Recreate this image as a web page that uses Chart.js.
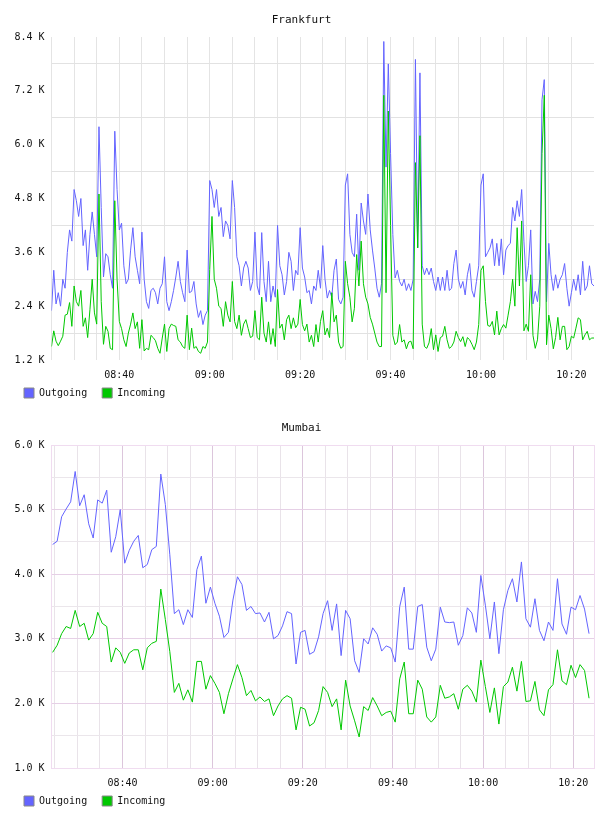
<!DOCTYPE html>
<html>
<head>
<meta charset="utf-8">
<script src="https://cdn.jsdelivr.net/npm/chart.js@4/dist/chart.umd.min.js"></script>
<style>
  body { margin: 0; background: #fff; }
  canvas { display: block; }
</style>
</head>
<body>
<canvas id="frankfurt" width="608" height="408"></canvas>
<canvas id="mumbai" width="608" height="408"></canvas>
<script>
// traffic in K, minutes since midnight for the time axis
const frankfurtStart = 505;   // 08:25
const frankfurtStep = 0.5;
const frankfurtOutgoing = [
  2.3, 3.2, 2.45, 2.7, 2.4, 3.0, 2.8, 3.6, 4.1, 3.85,
  5.0, 4.75, 4.4, 4.8, 3.75, 4.1, 3.2, 4.0, 4.5, 4.0,
  3.5, 6.4, 4.6, 3.05, 3.57, 3.5, 3.1, 2.8, 6.3, 5.0,
  4.1, 4.25, 3.3, 2.9, 3.0, 3.65, 4.15, 3.5, 3.2, 2.9,
  4.05, 3.0, 2.5, 2.35, 2.75, 2.8, 2.7, 2.45, 2.8, 2.9,
  3.5, 2.5, 2.3, 2.5, 2.75, 3.05, 3.4, 2.95, 2.7, 2.5,
  3.65, 2.7, 2.73, 2.95, 2.45, 2.15, 2.3, 1.99, 2.2, 2.3,
  5.2, 5.0, 4.6, 5.0, 4.4, 4.6, 3.95, 4.3, 4.2, 3.9,
  5.2, 4.6, 3.5, 3.3, 2.85, 3.25, 3.4, 3.25, 2.75, 2.95,
  4.05, 2.85, 2.65, 4.04, 2.95, 2.5, 3.4, 2.5, 2.85, 2.6,
  4.2, 3.3, 3.1, 2.65, 2.95, 3.6, 3.4, 2.75, 3.2, 3.1,
  4.15, 3.25, 3.05, 2.7, 2.75, 2.45, 2.85, 2.75, 3.2, 2.8,
  3.75, 3.0, 2.58, 2.75, 2.6, 3.2, 3.45, 2.55, 2.45, 2.6,
  5.1, 5.35, 4.0, 3.6, 3.5, 4.45, 3.2, 4.7, 4.3, 4.0,
  4.9, 4.1, 3.65, 3.25, 2.8, 2.6, 2.9, 8.3, 5.5, 7.8,
  5.8, 4.0, 3.03, 3.2, 2.95, 2.85, 3.0, 2.75, 2.9, 2.75,
  3.0, 7.9, 3.7, 7.6, 3.3, 3.1, 3.25, 3.1, 3.25, 2.95,
  2.75, 3.05, 2.75, 3.05, 2.75, 3.2, 2.75, 2.8, 3.35, 3.65,
  3.0, 2.8, 2.95, 2.65, 3.1, 3.35, 2.75, 2.6, 2.95, 3.3,
  5.1, 5.35, 3.5, 3.6, 3.7, 3.9, 3.3, 3.8, 3.3, 3.9,
  3.1, 3.65, 3.75, 3.8, 4.6, 4.3, 4.75, 4.4, 5.0, 3.85,
  2.95, 3.3, 4.1, 2.45, 2.73, 2.5, 3.0, 7.0, 7.45, 2.5,
  3.8, 3.1, 2.75, 3.1, 2.8, 3.0, 3.1, 3.35, 2.8, 2.4,
  2.7, 3.0, 2.75, 3.1, 2.65, 3.4, 2.75, 2.85, 3.3, 2.9,
  2.85
];
const frankfurtIncoming = [
  1.5, 1.85, 1.62, 1.52, 1.62, 1.73, 2.2, 2.22, 2.48, 1.95,
  2.85, 2.5, 2.4, 2.75, 1.95, 2.14, 1.7, 2.32, 3.0, 2.25,
  2.0, 4.9, 2.5, 1.55, 1.95, 1.84, 1.46, 1.43, 4.75, 3.0,
  2.06, 1.9, 1.65, 1.5, 1.8, 2.0, 2.25, 1.9, 2.05, 1.46,
  2.1, 1.4, 1.46, 1.43, 1.75, 1.7, 1.63, 1.46, 1.35, 1.69,
  2.0, 1.39, 1.9, 2.0, 1.97, 1.95, 1.65, 1.6, 1.5, 1.46,
  2.2, 1.43, 1.91, 1.46, 1.5, 1.39, 1.35, 1.5, 1.46, 1.6,
  3.22, 4.4, 3.0, 2.8, 2.4, 2.35, 1.95, 2.5, 2.2, 2.05,
  2.95, 2.06, 1.9, 2.2, 1.75, 2.0, 2.1, 1.9, 1.7, 1.73,
  2.3, 1.7, 1.65, 2.6, 1.8, 1.6, 2.05, 1.55, 1.9, 1.5,
  2.77, 1.91, 2.0, 1.65, 2.1, 2.2, 1.9, 2.14, 1.92, 2.0,
  2.55, 1.99, 1.85, 2.0, 1.6, 1.75, 1.5, 1.99, 1.6, 2.06,
  2.3, 1.76, 1.91, 1.7, 2.7, 2.05, 2.2, 1.6, 1.46, 1.5,
  3.4, 2.9, 2.6, 2.05, 2.35, 3.55, 2.85, 3.85, 2.9, 2.6,
  2.45, 2.15, 2.0, 1.8, 1.6, 1.5, 1.5, 7.1, 2.7, 6.75,
  4.2, 1.75, 1.54, 1.6, 1.99, 1.6, 1.65, 1.45, 1.6, 1.62,
  1.45, 5.6, 3.7, 6.2, 2.0, 1.5, 1.46, 1.58, 1.9, 1.43,
  1.76, 1.39, 1.7, 1.73, 1.95, 1.65, 1.46, 1.5, 1.6, 1.84,
  1.7, 1.61, 1.72, 1.5, 1.7, 1.65, 1.55, 1.43, 1.6, 1.99,
  3.2, 3.3, 2.5, 1.97, 1.95, 2.06, 1.76, 2.29, 1.76, 1.9,
  1.99, 1.91, 2.2, 2.5, 3.0, 2.4, 4.15, 2.85, 4.3, 1.85,
  2.0, 1.84, 3.1, 1.75, 1.46, 1.65, 2.4, 5.8, 7.1, 1.54,
  2.2, 1.9, 1.45, 1.7, 2.15, 1.65, 1.95, 1.95, 1.43, 1.5,
  1.73, 1.69, 1.91, 2.14, 2.1, 1.65, 1.76, 1.84, 1.65, 1.69,
  1.69
];

const mumbaiStart = 504.5;    // 08:24:30
const mumbaiStep = 1;
const mumbaiOutgoing = [
  4.46, 4.51, 4.89, 5.01, 5.12, 5.59, 5.06, 5.23, 4.78, 4.56,
  5.15, 5.1, 5.3, 4.34, 4.58, 5.0, 4.17, 4.37, 4.51, 4.6,
  4.1, 4.15, 4.38, 4.43, 5.55, 5.08, 4.3, 3.39, 3.45, 3.22,
  3.45, 3.33, 4.07, 4.28, 3.55, 3.8, 3.55, 3.35, 3.02, 3.1,
  3.6, 3.96, 3.84, 3.44, 3.5, 3.39, 3.4, 3.26, 3.41, 3.0,
  3.05, 3.2, 3.42, 3.39, 2.61, 3.1, 3.13, 2.76, 2.8, 3.03,
  3.39, 3.59, 3.13, 3.54, 2.74, 3.44, 3.31, 2.66, 2.48, 3.0,
  2.92, 3.17, 3.07, 2.81, 2.89, 2.86, 2.64, 3.5, 3.8, 2.84,
  2.84, 3.5, 3.53, 2.87, 2.66, 2.84, 3.49, 3.26, 3.25, 3.26,
  2.9, 3.05, 3.48, 3.4, 3.1, 3.98, 3.52, 3.0, 3.57, 2.77,
  3.45, 3.75, 3.93, 3.57, 4.19, 3.31, 3.18, 3.62, 3.13, 2.97,
  3.26, 3.13, 3.93, 3.23, 3.07, 3.49, 3.45, 3.67, 3.46, 3.08
];
const mumbaiIncoming = [
  2.79, 2.9, 3.08, 3.19, 3.16, 3.44, 3.19, 3.24, 2.98, 3.08,
  3.41, 3.24, 3.19, 2.64, 2.86, 2.79, 2.62, 2.78, 2.83, 2.83,
  2.52, 2.86, 2.93, 2.96, 3.77, 3.3, 2.8, 2.17, 2.31, 2.05,
  2.21, 2.02, 2.65, 2.65, 2.22, 2.43, 2.31, 2.17, 1.84, 2.15,
  2.38, 2.6, 2.4, 2.12, 2.2, 2.04, 2.1, 2.03, 2.07, 1.81,
  1.96, 2.07, 2.12, 2.08, 1.59, 1.94, 1.91, 1.65, 1.7, 1.89,
  2.26, 2.17, 1.95, 2.07, 1.59, 2.36, 1.96, 1.73, 1.48, 1.95,
  1.89, 2.09, 1.96, 1.81, 1.86, 1.88, 1.71, 2.38, 2.64, 1.84,
  1.84, 2.36, 2.22, 1.79, 1.71, 1.79, 2.28, 2.08, 2.1, 2.15,
  1.91, 2.22, 2.28, 2.19, 2.02, 2.67, 2.26, 1.86, 2.24, 1.68,
  2.26, 2.33, 2.56, 2.19, 2.65, 2.03, 2.04, 2.34, 1.9, 1.81,
  2.21, 2.29, 2.83, 2.35, 2.29, 2.59, 2.4, 2.6, 2.51, 2.08
];

const seriesNames = ['Outgoing', 'Incoming'];
const seriesColors = ['#6464ff', '#00c800'];

Chart.defaults.font.family = "'DejaVu Sans Mono', monospace";
Chart.defaults.font.size = 10;
Chart.defaults.color = '#111';

function toPoints(start, step, values) {
  return values.map((v, i) => ({ x: start + i * step, y: v }));
}

function timeLabel(v) {
  if (Math.abs(v % 20) > 1e-6) return '';
  const h = Math.floor(v / 60);
  const m = Math.round(v % 60);
  return String(h).padStart(2, '0') + ':' + String(m).padStart(2, '0');
}

// light pink frame round the plot, only used for Mumbai
const frame = {
  id: 'frame',
  beforeDatasetsDraw(chart, args, opts) {
    if (!opts.color) return;
    const a = chart.chartArea;
    const c = chart.ctx;
    c.save();
    c.strokeStyle = opts.color;
    c.lineWidth = 1;
    c.strokeRect(Math.round(a.left) - 0.5, Math.round(a.top) + 0.5,
      Math.round(a.right - a.left), Math.round(a.bottom - a.top));
    c.restore();
  }
};

function makeChart(id, title, start, step, outgoing, incoming, cfg) {
  new Chart(document.getElementById(id), {
    type: 'line',
    data: {
      datasets: [
        { label: seriesNames[0], data: toPoints(start, step, outgoing), order: 2,
          borderColor: seriesColors[0], backgroundColor: seriesColors[0] },
        { label: seriesNames[1], data: toPoints(start, step, incoming), order: 1,
          borderColor: seriesColors[1], backgroundColor: seriesColors[1] }
      ]
    },
    options: {
      responsive: false,
      animation: false,
      devicePixelRatio: 1,
      layout: { padding: { left: 9, right: 14, top: 0, bottom: 0 } },
      elements: {
        line: { borderWidth: 1, tension: 0 },
        point: { radius: 0 }
      },
      scales: {
        x: {
          type: 'linear',
          min: cfg.xMin,
          max: cfg.xMax,
          border: { display: false },
          grid: { drawTicks: false, color: cfg.xGrid },
          ticks: {
            stepSize: 5, autoSkip: false, maxRotation: 0, includeBounds: false,
            padding: 9.5, callback: timeLabel
          },
          afterFit(scale) { scale.height = 21; }
        },
        y: {
          min: cfg.yMin,
          max: cfg.yMax,
          border: { display: false },
          grid: { drawTicks: false, color: cfg.yGrid },
          ticks: {
            stepSize: cfg.yStep, padding: 7,
            callback: (v, i) => (i % 2 === 0 ? v.toFixed(1) + ' K' : '')
          },
          afterFit(scale) { scale.width = 42.5; }
        }
      },
      plugins: {
        title: {
          display: true,
          text: title,
          color: '#111',
          font: { size: 11, weight: 'normal' },
          padding: { top: 13.4, bottom: 10.4 }
        },
        legend: {
          position: 'bottom',
          align: 'start',
          // empty title with negative padding pulls the row up close to the axis
          title: { display: true, text: '', padding: { top: -8, bottom: -12 } },
          labels: {
            boxWidth: 10,
            boxHeight: 10,
            padding: 15,
            sort: (a, b) => a.datasetIndex - b.datasetIndex,
            generateLabels(chart) {
              return Chart.defaults.plugins.legend.labels.generateLabels(chart).map(l => {
                l.strokeStyle = '#888';
                l.lineWidth = 1;
                return l;
              });
            }
          }
        },
        tooltip: { enabled: false },
        frame: { color: cfg.frame }
      }
    },
    plugins: [frame]
  });
}

makeChart('frankfurt', 'Frankfurt', frankfurtStart, frankfurtStep, frankfurtOutgoing, frankfurtIncoming, {
  xMin: 505, xMax: 625, yMin: 1.2, yMax: 8.4, yStep: 0.6,
  xGrid: ctx => (ctx.tick && ctx.tick.value >= 625 ? 'rgba(0,0,0,0)' : '#e4e4e4'),
  yGrid: ctx => (ctx.index % 2 === 1 ? '#e2e2e2' : 'rgba(0,0,0,0)'),
  frame: null
});

makeChart('mumbai', 'Mumbai', mumbaiStart, mumbaiStep, mumbaiOutgoing, mumbaiIncoming, {
  xMin: 504.25, xMax: 624.6, yMin: 1, yMax: 6, yStep: 0.5,
  xGrid: ctx => (ctx.tick && Math.abs(ctx.tick.value % 20) < 1e-6 ? '#dcc6dc' : '#e9e3e9'),
  yGrid: ctx => (ctx.index % 2 === 0 ? '#e6d0e6' : '#ebe6eb'),
  frame: '#f0dcf0'
});
</script>
</body>
</html>
